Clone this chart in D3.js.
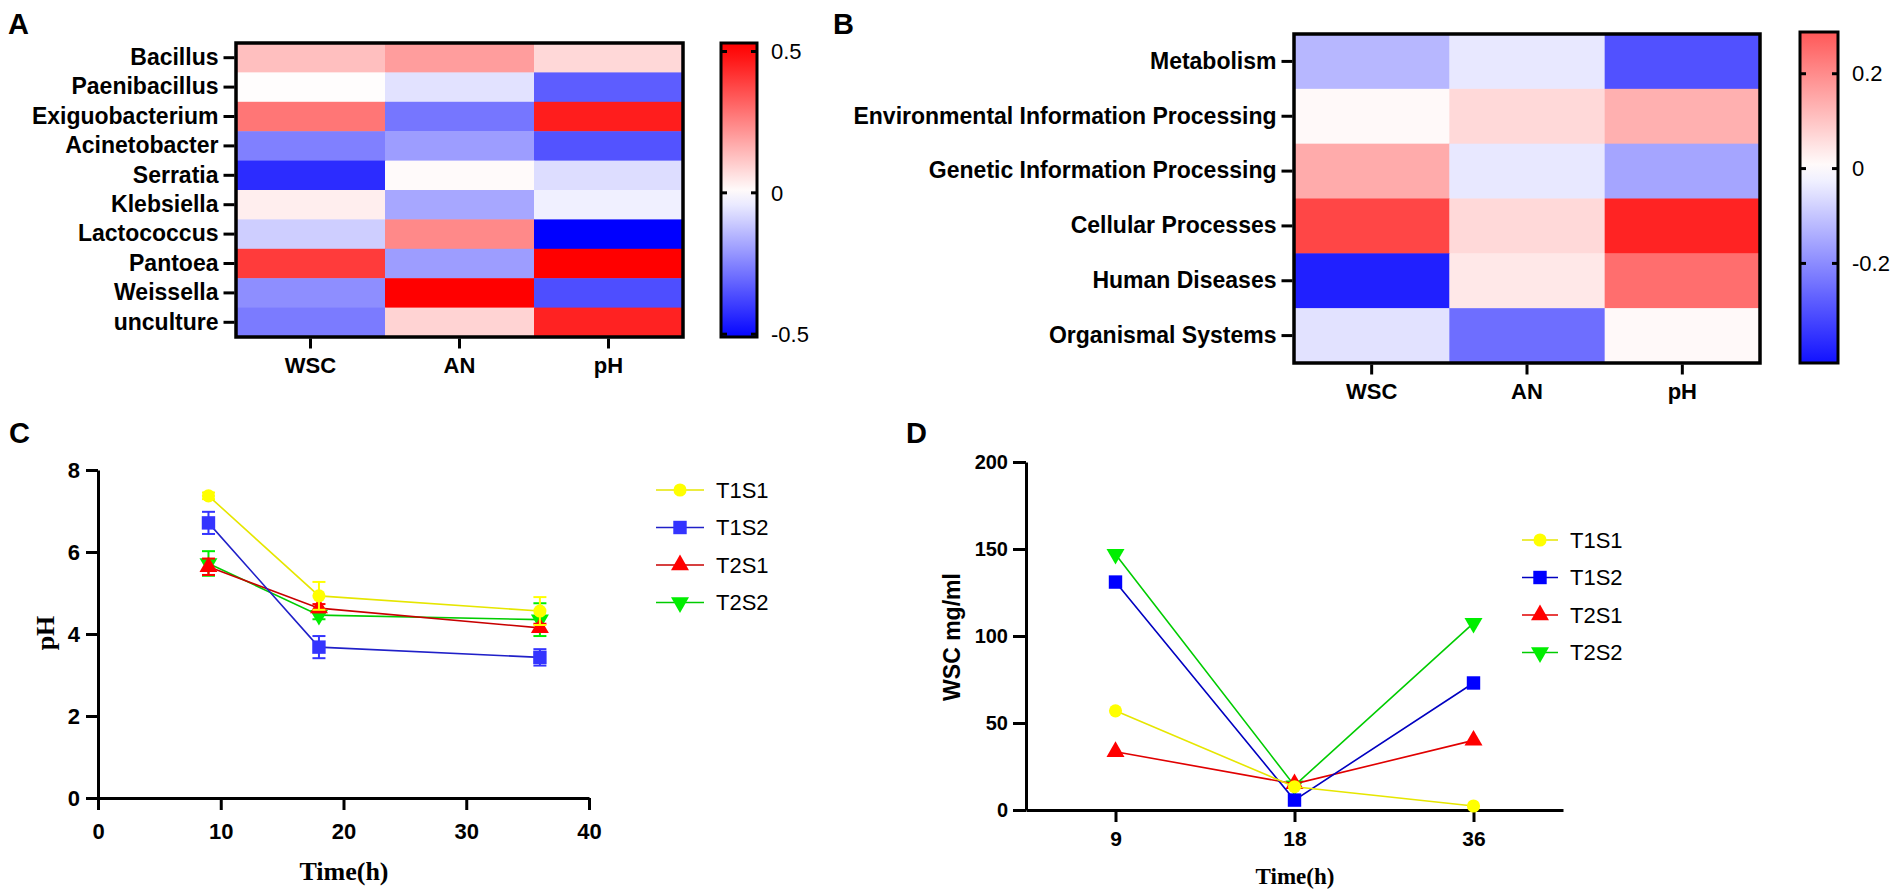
<!DOCTYPE html>
<html>
<head>
<meta charset="utf-8">
<title>Correlation heatmaps and fermentation curves</title>
<script src="https://d3js.org/d3.v7.min.js"></script>
<style>
  body { margin: 0; background: #fff; }
  svg { display: block; font-family: "Liberation Sans", Arial, sans-serif; }
  .axis text { font-family: "Liberation Sans", Arial, sans-serif; font-weight: bold; font-size: 22px; fill: #000; }
  .axis line, .axis path { stroke: #000; stroke-width: 3; }
  .rowaxis text { font-size: 23px; }
  .cbar text { font-size: 22px; fill: #000; }
  .letter { font-weight: bold; font-size: 29px; }
  .times { font-family: "Liberation Serif", "Times New Roman", serif; font-weight: bold; font-size: 26px; }
  .legend text { font-size: 22px; }
</style>
</head>
<body>
<script>
// ---- data ----
var heatCols = ["WSC", "AN", "pH"];

var genera = ["Bacillus", "Paenibacillus", "Exiguobacterium", "Acinetobacter", "Serratia",
              "Klebsiella", "Lactococcus", "Pantoea", "Weissella", "unculture"];
var generaCorr = [
  [0.13, 0.20, 0.08],
  [0.005, -0.06, -0.33],
  [0.28, -0.28, 0.46],
  [-0.26, -0.20, -0.35],
  [-0.43, 0.01, -0.07],
  [0.035, -0.18, -0.03],
  [-0.10, 0.24, -0.52],
  [0.40, -0.20, 0.52],
  [-0.23, 0.52, -0.36],
  [-0.27, 0.09, 0.45]
];
var generaTicks = [-0.5, 0, 0.5];

var pathways = ["Metabolism", "Environmental Information Processing", "Genetic Information Processing",
                "Cellular Processes", "Human Diseases", "Organismal Systems"];
var pathwayCorr = [
  [-0.125, -0.04, -0.30],
  [0.01, 0.065, 0.137],
  [0.145, -0.04, -0.155],
  [0.32, 0.065, 0.38],
  [-0.385, 0.04, 0.25],
  [-0.05, -0.25, 0.01]
];
var pathwayTicks = [-0.2, 0, 0.2];

var seriesNames = ["T1S1", "T1S2", "T2S1", "T2S2"];

var phTimes = [9, 18, 36];
var phMean = [
  [7.37, 4.93, 4.56],
  [6.71, 3.68, 3.43],
  [5.64, 4.63, 4.15],
  [5.72, 4.46, 4.35]
];
var phSd = [
  [0.08, 0.34, 0.34],
  [0.27, 0.27, 0.20],
  [0.20, 0.10, 0.10],
  [0.30, 0.10, 0.40]
];
var phXTicks = [0, 10, 20, 30, 40];
var phYTicks = [0, 2, 4, 6, 8];

var wscTimes = ["9", "18", "36"];
var wscValues = [
  [57, 13.4, 2.3],
  [131, 5.7, 73],
  [33.5, 15, 40],
  [147, 14, 107.4]
];
var wscYTicks = [0, 50, 100, 150, 200];

// ---- styles per series ----
var markFill = ["#ffff00", "#3434ff", "#ff0000", "#00ee00"];
var lineCol = ["#e6e600", "#2020c8", "#c80000", "#00cc00"];
var markFillD = ["#ffff00", "#0000ff", "#ff0000", "#00ee00"];
var lineColD = ["#e6e600", "#0000c0", "#e00000", "#00cc00"];
var symTypes = [d3.symbolCircle, d3.symbolSquare, d3.symbolTriangle, d3.symbolTriangle];
var symSizes = [135, 180, 140, 140];
var symRot = [0, 0, 0, 180];
var drawOrder = [3, 2, 1, 0];

var svg = d3.select("body").append("svg")
  .attr("width", 1904)
  .attr("height", 896);

function symbolPath(i) {
  return d3.symbol().type(symTypes[i]).size(symSizes[i])();
}

// ---- heatmap with colour bar ----
function heatmap(o) {
  var x = d3.scaleBand().domain(heatCols).range([o.x0, o.x1]);
  var y = d3.scaleBand().domain(o.rows).range([o.y0, o.y1]);
  var color = d3.scaleLinear().domain([-o.sat, 0, o.sat])
    .range(["#0000ff", "#ffffff", "#ff0000"]).clamp(true);

  var g = svg.append("g");
  o.rows.forEach(function(r, i) {
    g.selectAll(null).data(o.values[i]).enter().append("rect")
      .attr("x", function(d, j) { return x(heatCols[j]); })
      .attr("y", y(r))
      .attr("width", x.bandwidth() + 0.5)
      .attr("height", y.bandwidth() + 0.5)
      .attr("fill", function(d) { return color(d); });
  });
  g.append("rect")
    .attr("x", o.x0).attr("y", o.y0)
    .attr("width", o.x1 - o.x0).attr("height", o.y1 - o.y0)
    .attr("fill", "none").attr("stroke", "#000").attr("stroke-width", 3.5);

  g.append("g").attr("class", "axis rowaxis")
    .attr("transform", "translate(" + (o.x0 - 1.5) + ",0)")
    .call(d3.axisLeft(y).tickSize(11).tickPadding(5))
    .call(function(a) { a.select(".domain").remove(); });
  g.append("g").attr("class", "axis")
    .attr("transform", "translate(0," + (o.y1 + 1.5) + ")")
    .call(d3.axisBottom(x).tickSize(10).tickPadding(9))
    .call(function(a) { a.select(".domain").remove(); });

  // colour bar
  var cb = d3.scaleLinear().domain(o.cbDomain).range([o.y1, o.cbTop]);
  var gid = "grad" + o.id;
  var grad = svg.append("defs").append("linearGradient")
    .attr("id", gid).attr("x1", 0).attr("y1", 1).attr("x2", 0).attr("y2", 0);
  d3.range(0, 1.0001, 0.05).forEach(function(t) {
    var v = o.cbDomain[0] + t * (o.cbDomain[1] - o.cbDomain[0]);
    grad.append("stop").attr("offset", t).attr("stop-color", color(v));
  });
  var c = svg.append("g").attr("class", "cbar");
  c.append("rect")
    .attr("x", o.cbX).attr("y", o.cbTop)
    .attr("width", o.cbW).attr("height", o.y1 - o.cbTop)
    .attr("fill", "url(#" + gid + ")")
    .attr("stroke", "#000").attr("stroke-width", 3);
  o.ticks.forEach(function(t) {
    c.append("line").attr("x1", o.cbX).attr("x2", o.cbX + 6)
      .attr("y1", cb(t)).attr("y2", cb(t)).attr("stroke", "#000").attr("stroke-width", 3);
    c.append("line").attr("x1", o.cbX + o.cbW - 6).attr("x2", o.cbX + o.cbW)
      .attr("y1", cb(t)).attr("y2", cb(t)).attr("stroke", "#000").attr("stroke-width", 3);
    c.append("text").attr("x", o.cbX + o.cbW + 14).attr("y", cb(t)).attr("dy", "0.35em")
      .text(t === 0 ? "0" : String(t));
  });
}

heatmap({ id: "A", rows: genera, values: generaCorr, x0: 236, x1: 683, y0: 43, y1: 337,
          sat: 0.52, cbX: 721, cbW: 36, cbTop: 43, cbDomain: [-0.51, 0.53], ticks: generaTicks });
heatmap({ id: "B", rows: pathways, values: pathwayCorr, x0: 1294, x1: 1760, y0: 34, y1: 363,
          sat: 0.44, cbX: 1800, cbW: 38, cbTop: 32, cbDomain: [-0.41, 0.288], ticks: pathwayTicks });

// ---- legend ----
function legend(x, y, len, fills, lines) {
  var lg = svg.append("g").attr("class", "legend");
  seriesNames.forEach(function(n, i) {
    var yy = y + i * 37.5;
    lg.append("line").attr("x1", x).attr("x2", x + len).attr("y1", yy).attr("y2", yy)
      .attr("stroke", lines[i]).attr("stroke-width", 1.6);
    lg.append("path").attr("d", symbolPath(i))
      .attr("transform", "translate(" + (x + len / 2) + "," + yy + ") rotate(" + symRot[i] + ")")
      .attr("fill", fills[i]);
    lg.append("text").attr("x", x + len + 12).attr("y", yy).attr("dy", "0.35em").text(n);
  });
}

// ---- C: pH ----
var xC = d3.scaleLinear().domain([0, 40]).range([98, 589]);
var yC = d3.scaleLinear().domain([0, 8]).range([798, 470]);

svg.append("g").attr("class", "axis")
  .attr("transform", "translate(0,798)")
  .call(d3.axisBottom(xC).tickValues(phXTicks).tickSize(12).tickSizeOuter(0).tickPadding(13));
svg.append("g").attr("class", "axis")
  .attr("transform", "translate(98,0)")
  .call(d3.axisLeft(yC).tickValues(phYTicks).tickSize(12).tickSizeOuter(0).tickPadding(6));

drawOrder.forEach(function(i) {
  var g = svg.append("g");
  var line = d3.line().x(function(d, k) { return xC(phTimes[k]); }).y(function(d) { return yC(d); });
  g.append("path").datum(phMean[i]).attr("d", line)
    .attr("fill", "none").attr("stroke", lineCol[i]).attr("stroke-width", 1.6);
  phMean[i].forEach(function(m, k) {
    var px = xC(phTimes[k]);
    var s = phSd[i][k];
    g.append("line").attr("x1", px).attr("x2", px).attr("y1", yC(m - s)).attr("y2", yC(m + s))
      .attr("stroke", markFill[i]).attr("stroke-width", 2);
    [m - s, m + s].forEach(function(v) {
      g.append("line").attr("x1", px - 6.5).attr("x2", px + 6.5).attr("y1", yC(v)).attr("y2", yC(v))
        .attr("stroke", markFill[i]).attr("stroke-width", 2);
    });
    g.append("path").attr("d", symbolPath(i))
      .attr("transform", "translate(" + px + "," + yC(m) + ") rotate(" + symRot[i] + ")")
      .attr("fill", markFill[i]);
  });
});

svg.append("text").attr("class", "times").attr("text-anchor", "middle")
  .attr("transform", "translate(54,633) rotate(-90)").text("pH");
svg.append("text").attr("class", "times").attr("text-anchor", "middle")
  .attr("x", 344).attr("y", 880).text("Time(h)");
legend(656, 490, 48, markFill, lineCol);

// ---- D: WSC ----
var xD = d3.scalePoint().domain(wscTimes).range([1026, 1563]).padding(0.5);
var yD = d3.scaleLinear().domain([0, 200]).range([810, 462]);

svg.append("g").attr("class", "axis")
  .attr("transform", "translate(0,810)")
  .call(d3.axisBottom(xD).tickSize(12).tickSizeOuter(0).tickPadding(9))
  .call(function(a) { a.selectAll("path,line").attr("stroke-width", 4.5); a.selectAll("text").style("font-size", "21px"); });
svg.append("g").attr("class", "axis")
  .attr("transform", "translate(1026,0)")
  .call(d3.axisLeft(yD).tickValues(wscYTicks).tickSize(13).tickSizeOuter(0).tickPadding(5))
  .call(function(a) { a.selectAll("path,line").attr("stroke-width", 4.5); a.selectAll("text").style("font-size", "20px"); });

drawOrder.forEach(function(i) {
  var g = svg.append("g");
  var line = d3.line().x(function(d, k) { return xD(wscTimes[k]); }).y(function(d) { return yD(d); });
  g.append("path").datum(wscValues[i]).attr("d", line)
    .attr("fill", "none").attr("stroke", lineColD[i]).attr("stroke-width", 1.6);
  g.selectAll(null).data(wscValues[i]).enter().append("path")
    .attr("d", symbolPath(i))
    .attr("transform", function(d, k) {
      return "translate(" + xD(wscTimes[k]) + "," + yD(d) + ") rotate(" + symRot[i] + ")";
    })
    .attr("fill", markFillD[i]);
});

svg.append("text").attr("text-anchor", "middle")
  .attr("transform", "translate(960,637) rotate(-90)")
  .style("font-weight", "bold").style("font-size", "23px").text("WSC mg/ml");
svg.append("text").attr("class", "times").attr("text-anchor", "middle")
  .style("font-size", "23px")
  .attr("x", 1295).attr("y", 884).text("Time(h)");
legend(1522, 540, 36, markFillD, lineColD);

// ---- panel letters ----
[["A", 8, 34], ["B", 833, 34], ["C", 9, 443], ["D", 906, 443]].forEach(function(l) {
  svg.append("text").attr("class", "letter").attr("x", l[1]).attr("y", l[2]).text(l[0]);
});
</script>
</body>
</html>
